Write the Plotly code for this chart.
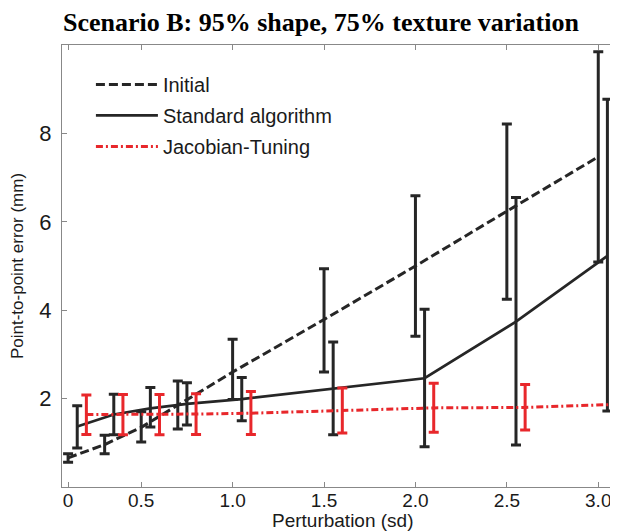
import plotly.graph_objects as go

# Perturbation levels (sd)
x_levels = [0.1, 0.3, 0.5, 0.7, 1.0, 1.5, 2.0, 2.5, 3.0]
x_offset_standard = 0.05
x_offset_jacobian = 0.10

# Initial
initial_mean = [0.66, 0.96, 1.35, 1.85, 2.60, 3.79, 5.00, 6.24, 7.47]
initial_upper = [0.75, 1.17, 1.70, 2.40, 3.34, 4.94, 6.59, 8.21, 9.85]
initial_lower = [0.56, 0.75, 1.02, 1.31, 1.98, 2.60, 3.41, 4.25, 5.09]

# Standard algorithm
standard_mean = [1.37, 1.64, 1.78, 1.88, 1.99, 2.23, 2.46, 3.74, 5.23]
standard_upper = [1.84, 2.10, 2.25, 2.36, 2.48, 3.28, 4.02, 6.55, 8.77]
standard_lower = [0.88, 1.18, 1.36, 1.40, 1.50, 1.18, 0.91, 0.95, 1.72]

# Jacobian-Tuning
jacobian_mean = [1.64, 1.64, 1.64, 1.65, 1.67, 1.73, 1.79, 1.80, 1.87]
jacobian_upper = [2.08, 2.09, 2.09, 2.11, 2.16, 2.24, 2.35, 2.32, 2.48]
jacobian_lower = [1.19, 1.18, 1.18, 1.19, 1.19, 1.22, 1.24, 1.29, 1.25]

x_tickvals = [0.1, 0.5, 1.0, 1.5, 2.0, 2.5, 3.0]
x_ticktext = ["0", "0.5", "1.0", "1.5", "2.0", "2.5", "3.0"]
y_tickvals = [2, 4, 6, 8]

BLACK = "#262626"
RED = "#e8272b"
TEXT = "#1a1a1a"


def err(mean, upper, lower):
    return dict(
        type="data", symmetric=False,
        array=[u - m for u, m in zip(upper, mean)],
        arrayminus=[m - l for m, l in zip(mean, lower)],
    )


fig = go.Figure()

fig.add_trace(go.Scatter(
    x=x_levels, y=initial_mean, mode="lines", name="Initial",
    legendgroup="initial",
    line=dict(color=BLACK, width=3, dash="9px,4px"),
    error_y=dict(**err(initial_mean, initial_upper, initial_lower),
                 color=BLACK, thickness=3, width=5),
))
fig.add_trace(go.Scatter(
    x=[v + x_offset_standard for v in x_levels], y=standard_mean, mode="lines",
    name="Standard algorithm", legendgroup="standard",
    line=dict(color=BLACK, width=2.7),
    error_y=dict(**err(standard_mean, standard_upper, standard_lower),
                 color=BLACK, thickness=3, width=5),
))
fig.add_trace(go.Scatter(
    x=[v + x_offset_jacobian for v in x_levels], y=jacobian_mean, mode="lines",
    name="Jacobian-Tuning", legendgroup="jacobian",
    line=dict(color=RED, width=3, dash="7px,3px,2px,3px"),
    error_y=dict(**err(jacobian_mean, jacobian_upper, jacobian_lower),
                 color=RED, thickness=3, width=5),
))

axis_common = dict(
    showline=True, linecolor="#888888", linewidth=1, mirror="ticks",
    ticks="inside", ticklen=5, tickcolor="#888888", showgrid=False,
    zeroline=False, automargin=False,
)

# The page body has an 8px margin, so the figure is sized 8px smaller.
fig.update_layout(
    width=610, height=524,
    margin=dict(l=54, r=0, t=37, b=45),
    plot_bgcolor="white", paper_bgcolor="white",
    title=dict(
        text="<b>Scenario B: 95% shape, 75% texture variation</b>",
        font=dict(family="Liberation Serif", size=26, color="black"),
        x=0.513, xanchor="center", y=0.973, yanchor="middle",
    ),
    xaxis=dict(
        **axis_common, range=[0.0667, 3.108],
        tickvals=x_tickvals, ticktext=x_ticktext,
        tickfont=dict(family="Liberation Sans", size=19, color=TEXT),
        ticklabelstandoff=-4,
    ),
    yaxis=dict(
        **axis_common, range=[0, 10],
        tickvals=y_tickvals,
        tickfont=dict(family="Liberation Sans", size=22, color=TEXT),
        ticklabelstandoff=5,
        title=dict(text="Point-to-point error (mm)", standoff=18,
                   font=dict(family="Liberation Sans", size=17, color=TEXT)),
    ),
    annotations=[dict(
        text="Perturbation (sd)", xref="paper", yref="paper",
        x=0.505, y=0, yshift=-33, xanchor="center", yanchor="middle",
        showarrow=False,
        font=dict(family="Liberation Sans", size=19, color=TEXT),
    )],
    legend=dict(
        x=0.052, y=0.955, xanchor="left", yanchor="top",
        bgcolor="rgba(0,0,0,0)", borderwidth=0,
        font=dict(family="Liberation Sans", size=20, color=TEXT),
        itemwidth=62, tracegroupgap=2,
    ),
    showlegend=True,
)

fig.write_html("out.html")
